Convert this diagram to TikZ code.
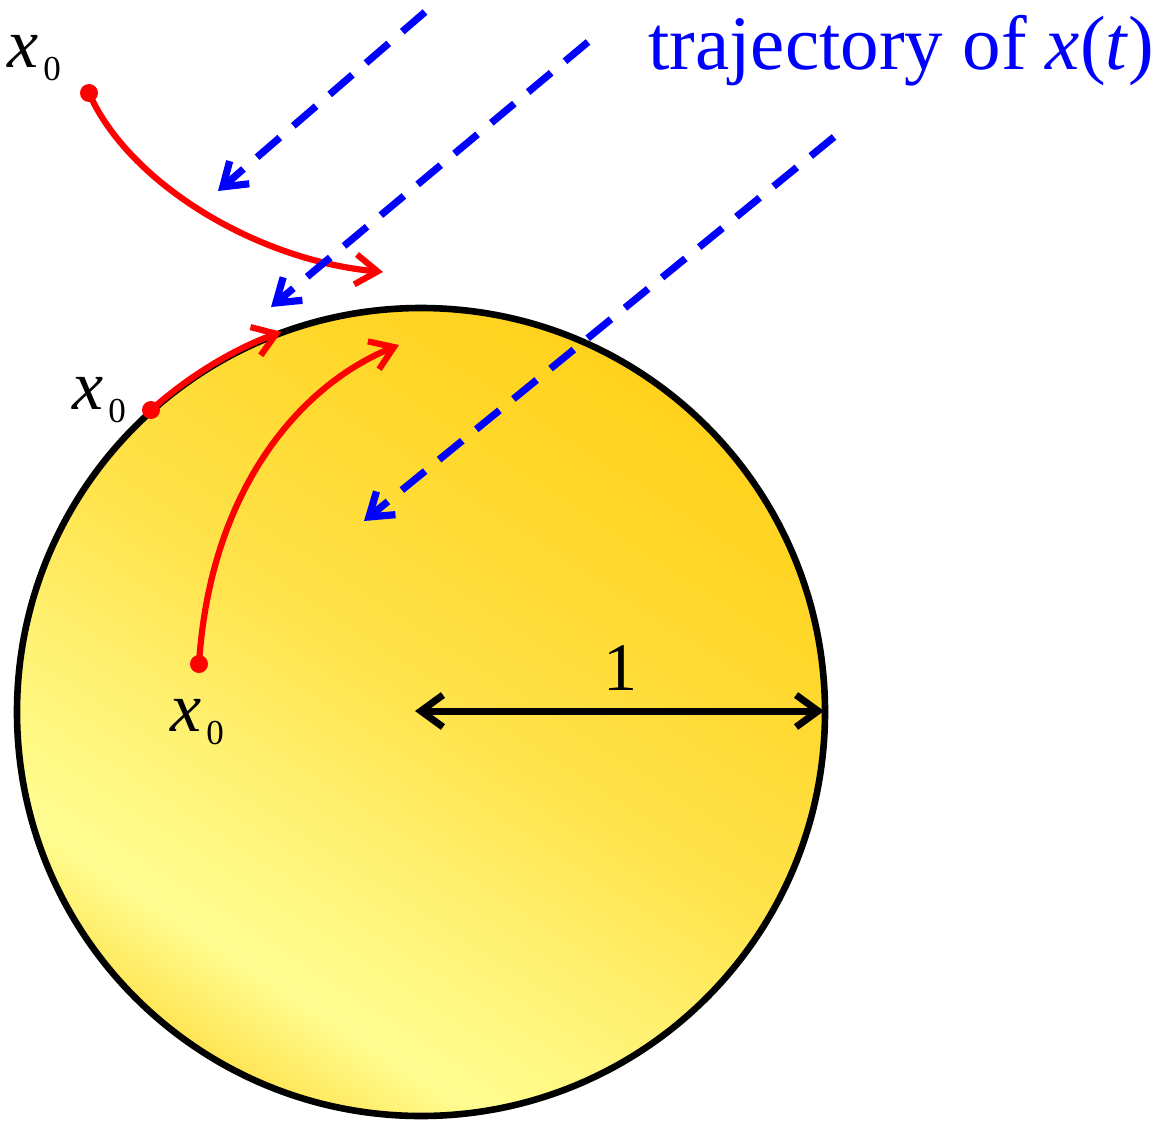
\documentclass[tikz,border=0pt]{standalone}
\usepackage{fontspec}
\setmainfont{Liberation Serif}
\usetikzlibrary{arrows.meta}
\definecolor{gEdge}{RGB}{255,229,85}
\definecolor{gLight}{RGB}{255,253,145}
\definecolor{gLightB}{RGB}{255,249,133}
\definecolor{gSoft}{RGB}{255,240,110}
\definecolor{gMid}{RGB}{255,228,78}
\definecolor{gWarm}{RGB}{255,218,50}
\definecolor{gDark}{RGB}{255,210,28}
\definecolor{pureblue}{RGB}{0,0,255}
\definecolor{purered}{RGB}{255,0,0}
\pgfdeclareverticalshading{goldshade}{100bp}{color(0bp)=(gEdge); color(25bp)=(gEdge); color(31bp)=(gLight); color(35bp)=(gLightB); color(42bp)=(gSoft); color(50bp)=(gMid); color(62bp)=(gWarm); color(75bp)=(gDark); color(100bp)=(gDark)}
\tikzset{
  redtraj/.style={draw=purered, line width=6.2pt, -{Straight Barb[length=22pt,width=30pt]}},
  bluetraj/.style={draw=pureblue, line width=7.2pt, dash pattern=on 30pt off 18pt, -{Straight Barb[length=22pt,width=30pt]}},
  startdot/.style={fill=purered},
  radiusarr/.style={draw=black, line width=7pt, {Straight Barb[length=22pt,width=32pt]}-{Straight Barb[length=22pt,width=32pt]}},
  lbl/.style={inner sep=0pt, anchor=base west, font=\fontsize{70}{72}\selectfont},
}
\newcommand{\xzero}{\textit{x}\hspace{5pt}\raisebox{-13pt}{\fontsize{35}{36}\selectfont 0}}
\begin{document}
\begin{tikzpicture}[x=1pt, y=-1pt]
\useasboundingbox (0,0) rectangle (1169,1124);
% disc
\coordinate (c) at (421,712);
\path[shading=goldshade, shading angle=-33] (c) circle[radius=404];
\draw[line width=6.6pt] (c) circle[radius=404];
% points
\coordinate (s1) at (89,93);
\coordinate (e1) at (383,272);
\coordinate (s2) at (151,410);
\coordinate (s3) at (199,664);
\coordinate (e3) at (399,345);
% red trajectories
\draw[redtraj] (s1) .. controls (128,182) and (255,260) .. (e1);
\draw[redtraj] (s2) arc[start angle=-131.8, end angle=-110.1, radius=404];
\draw[redtraj] (s3) .. controls (210,490) and (300,385) .. (e3);
\fill[startdot] (s1) circle[radius=9];
\fill[startdot] (s2) circle[radius=9];
\fill[startdot] (s3) circle[radius=9];
% blue trajectories
\coordinate (b1s) at (425,12);
\coordinate (b1e) at (218,191);
\coordinate (b2s) at (588,42);
\coordinate (b2e) at (271,307);
\coordinate (b3s) at (834,137);
\coordinate (b3e) at (364,521);
\draw[bluetraj] (b1s) -- (b1e);
\draw[bluetraj] (b2s) -- (b2e);
\draw[bluetraj] (b3s) -- (b3e);
% radius
\coordinate (rl) at (415,711);
\coordinate (rr) at (824,711);
\draw[radiusarr] (rl) -- (rr);
\node[inner sep=0pt, anchor=base, font=\fontsize{68}{70}\selectfont] (one) at (620,690) {1};
% labels
\node[lbl] (l1) at (7,67) {\xzero};
\node[lbl] (l2) at (72,409) {\xzero};
\node[lbl] (l3) at (170,731) {\xzero};
\node[inner sep=0pt, anchor=base west, text=pureblue, font=\fontsize{77}{80}\selectfont] (traj) at (648,70) {trajectory of \textit{x}(\textit{t})};
\end{tikzpicture}
\end{document}
